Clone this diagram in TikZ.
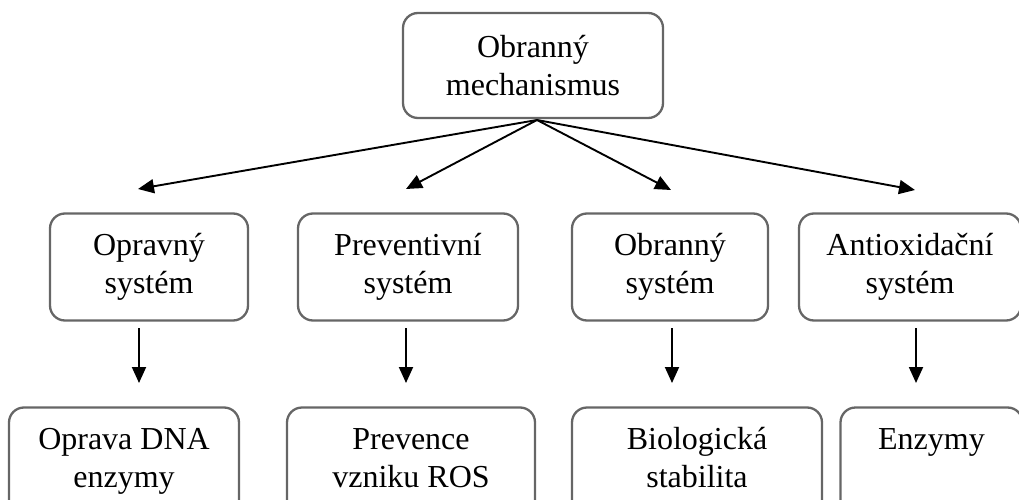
\documentclass[tikz,border=0pt]{standalone}
\usepackage{fontspec}
\setmainfont{Liberation Serif}
\usetikzlibrary{arrows.meta}
\begin{document}
\begin{tikzpicture}[x=1pt,y=-1pt,
  box/.style={draw=black!60,line width=2.3pt,rounded corners=15pt,align=center,
    font=\fontsize{32}{38}\selectfont,inner sep=0pt,minimum height=#1},
  box/.default=107pt,
  arr/.style={line width=1.9pt,-{Triangle[length=16pt,width=14pt]}}]
\useasboundingbox (0,0) rectangle (1019,500);
\clip (0,0) rectangle (1019,500);
% top
\node[box=105pt,minimum width=260pt] (top) at (533,65.5) {\rule{0pt}{34pt}Obranný\\mechanismus\strut};
% middle row
\node[box,minimum width=198pt] (b1) at (149,267) {Opravný\strut\\systém\strut};
\node[box,minimum width=220pt] (b2) at (408,267) {Preventivní\strut\\systém\strut};
\node[box,minimum width=196pt] (b3) at (670,267) {Obranný\strut\\systém\strut};
\node[box,minimum width=222pt] (b4) at (910,267) {Antioxidační\strut\\systém\strut};
% bottom row
\node[box,minimum width=230pt] (c1) at (124,461) {Oprava DNA\strut\\enzymy\strut};
\node[box,minimum width=248pt] (c2) at (411,461) {Prevence\strut\\vzniku ROS\strut};
\node[box,minimum width=250pt] (c3) at (697,461) {Biologická\strut\\stabilita\strut};
\node[box,minimum width=182pt] (c4) at (931.5,461) {Enzymy\strut\\\strut};
% connector end points
\coordinate (src) at (537,120);
\coordinate (t1) at (138,189);
\coordinate (t2) at (406,189);
\coordinate (t3) at (671,190);
\coordinate (t4) at (915,190);
\coordinate (v1a) at (139,328); \coordinate (v1b) at (139,383);
\coordinate (v2a) at (406,328); \coordinate (v2b) at (406,383);
\coordinate (v3a) at (672,328); \coordinate (v3b) at (672,383);
\coordinate (v4a) at (916,328); \coordinate (v4b) at (916,383);
\draw[arr] (src) -- (t1);
\draw[arr] (src) -- (t2);
\draw[arr] (src) -- (t3);
\draw[arr] (src) -- (t4);
\draw[arr] (v1a) -- (v1b);
\draw[arr] (v2a) -- (v2b);
\draw[arr] (v3a) -- (v3b);
\draw[arr] (v4a) -- (v4b);
\end{tikzpicture}
\end{document}
